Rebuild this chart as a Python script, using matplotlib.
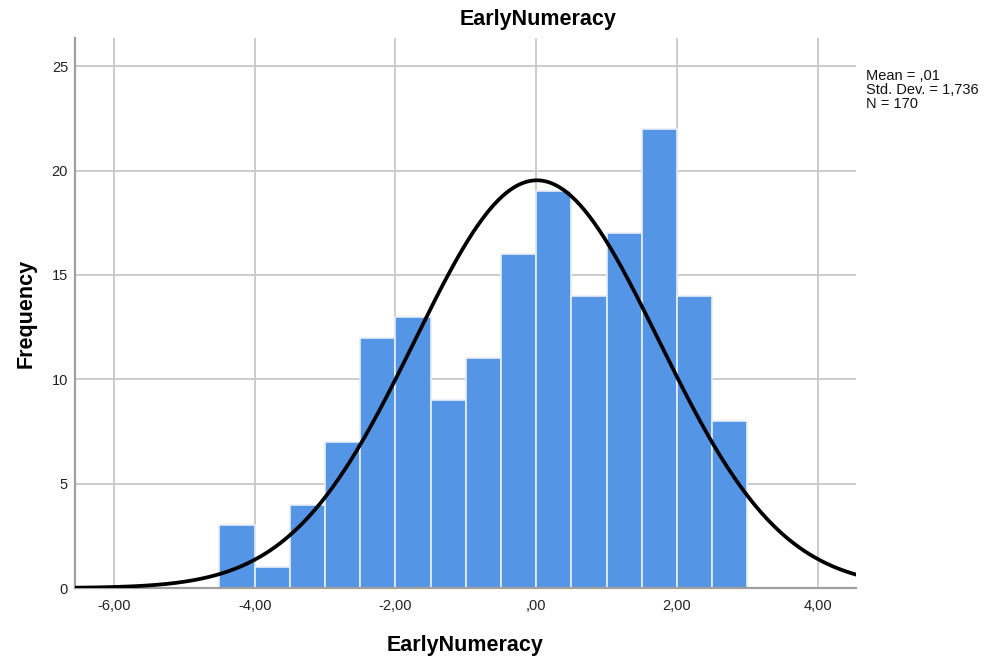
import numpy as np
import matplotlib.pyplot as plt

plt.rcParams["font.family"] = ["Liberation Sans", "DejaVu Sans"]

# histogram bins (width 0.5) and counts
bin_edges = [-4.5, -4.0, -3.5, -3.0, -2.5, -2.0, -1.5, -1.0, -0.5,
             0.0, 0.5, 1.0, 1.5, 2.0, 2.5, 3.0]
counts = [3, 1, 4, 7, 12, 13, 9, 11, 16, 19, 14, 17, 22, 14, 8]

mean = 0.01
std_dev = 1.736
n_obs = 170

x_ticks = [-6, -4, -2, 0, 2, 4]
x_tick_labels = ["-6,00", "-4,00", "-2,00", ",00", "2,00", "4,00"]
y_ticks = [0, 5, 10, 15, 20, 25]


def main():
    fig = plt.figure(figsize=(9.85, 6.59), dpi=100)
    ax = fig.add_axes([0.0761, 0.1077, 0.7929, 0.8346])

    lefts = bin_edges[:-1]
    widths = np.diff(bin_edges)
    ax.bar(lefts, counts, width=widths, align="edge", color="#5595e5",
           edgecolor="#e8eef8", linewidth=1.2, zorder=2)

    # fitted normal curve scaled to counts
    xs = np.linspace(-6.6, 4.6, 500)
    bw = widths[0]
    ys = n_obs * bw / (std_dev * np.sqrt(2 * np.pi)) * np.exp(-0.5 * ((xs - mean) / std_dev) ** 2)
    ax.plot(xs, ys, color="black", linewidth=2.7, zorder=3, solid_capstyle="butt")

    ax.set_xlim(-6.554, 4.545)
    ax.set_ylim(0, 26.35)
    ax.set_xticks(x_ticks)
    ax.set_xticklabels(x_tick_labels)
    ax.set_yticks(y_ticks)
    ax.tick_params(length=0, labelsize=10.5, colors="#222222")
    ax.tick_params(axis="x", pad=8)
    ax.tick_params(axis="y", pad=5)
    ax.grid(True, color="#c8c8c8", linewidth=1.3, zorder=0)
    ax.set_axisbelow(True)

    for side in ["top", "right"]:
        ax.spines[side].set_visible(False)
    ax.spines["left"].set_color("#a0a0a0")
    ax.spines["left"].set_linewidth(1.6)
    ax.spines["bottom"].set_color("#a0a0a0")
    ax.spines["bottom"].set_linewidth(1.6)

    fig.text(538 / 985, 1 - 20 / 659, "EarlyNumeracy", fontsize=15.5,
             fontweight="bold", ha="center", va="center")
    ax.set_xlabel("EarlyNumeracy", fontsize=15.5, fontweight="bold", labelpad=16)
    ax.set_ylabel("Frequency", fontsize=15.5, fontweight="bold", labelpad=11)

    fig.text(866 / 985, 1 - 69 / 659,
             "Mean = ,01\nStd. Dev. = 1,736\nN = 170",
             fontsize=10.5, va="top", ha="left", linespacing=1.0, color="#111111")

    fig.savefig("out.png", dpi=100)
    plt.close(fig)


if __name__ == "__main__":
    main()
